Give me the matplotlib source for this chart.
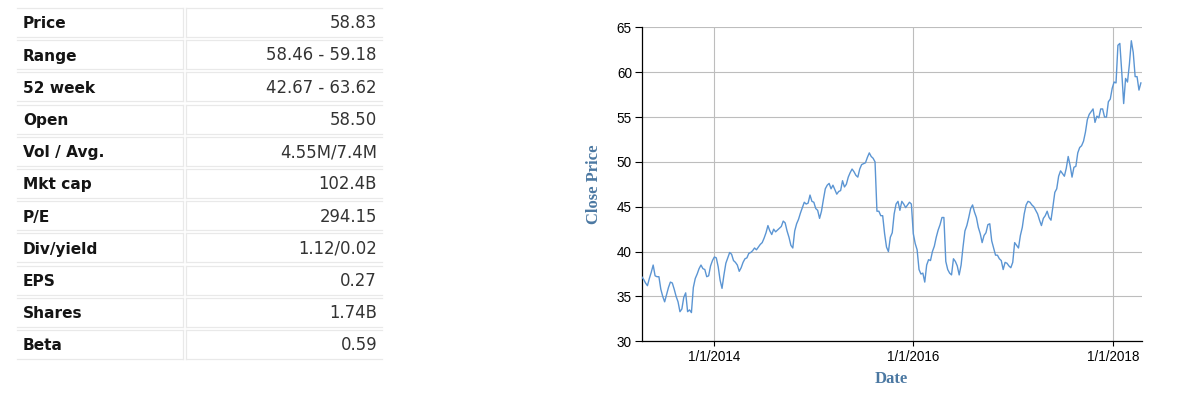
import matplotlib
matplotlib.use("Agg")
import matplotlib.pyplot as plt
import matplotlib.dates as mdates
from matplotlib.lines import Line2D
import pandas as pd

# ---------------- data ----------------
table_labels = ["Price", "Range", "52 week", "Open", "Vol / Avg.", "Mkt cap",
                "P/E", "Div/yield", "EPS", "Shares", "Beta"]
table_values = ["58.83", "58.46 - 59.18", "42.67 - 63.62", "58.50", "4.55M/7.4M",
                "102.4B", "294.15", "1.12/0.02", "0.27", "1.74B", "0.59"]

start_date = "2013-04-12"   # weekly closes
close = [
    37.2, 36.9, 36.5, 36.2, 37.0, 37.7, 38.5, 37.3, 37.2, 37.2,
    35.8, 35.0, 34.4, 35.2, 36.0, 36.6, 36.5, 35.8, 35.0, 34.4,
    33.3, 33.6, 34.9, 35.4, 33.3, 33.5, 33.2, 36.0, 37.0, 37.5,
    38.1, 38.5, 38.1, 38.0, 37.2, 37.3, 38.4, 39.0, 39.4, 39.3,
    38.3, 36.8, 35.9, 37.4, 38.7, 39.3, 39.9, 39.7, 39.0, 38.8,
    38.5, 37.8, 38.2, 38.8, 39.2, 39.3, 39.8, 39.9, 40.1, 40.4,
    40.2, 40.5, 40.8, 41.0, 41.5, 42.1, 42.9, 42.3, 41.9, 42.5,
    42.2, 42.4, 42.6, 42.8, 43.4, 43.2, 42.3, 41.6, 40.7, 40.4,
    42.3, 43.1, 43.6, 44.3, 44.9, 45.5, 45.3, 45.4, 46.3, 45.6,
    45.5, 44.8, 44.6, 43.7, 44.5, 45.8, 47.0, 47.4, 47.6, 47.0,
    47.4, 46.9, 46.4, 46.7, 46.8, 47.9, 47.2, 47.5, 48.3, 48.8,
    49.2, 48.9, 48.5, 48.3, 49.2, 49.7, 49.8, 49.9, 50.5, 51.0,
    50.6, 50.4, 50.0, 44.5, 44.5, 44.0, 44.0, 42.0, 40.5, 40.0,
    41.6, 42.1, 44.2, 45.3, 45.6, 44.6, 45.6, 45.3, 44.9, 45.2,
    45.5, 45.3, 42.0, 40.9, 40.2, 38.0, 37.5, 37.6, 36.6, 38.5,
    39.1, 39.0, 40.0, 40.6, 41.6, 42.4, 43.0, 43.8, 43.8, 38.9,
    38.0, 37.6, 37.4, 39.2, 38.9, 38.4, 37.4, 38.5, 40.5, 42.3,
    42.9, 43.8, 44.8, 45.2, 44.4, 43.8, 42.7, 42.0, 41.0, 41.8,
    42.1, 43.0, 43.1, 41.2, 40.4, 39.6, 39.6, 39.2, 39.0, 38.0,
    38.8, 38.7, 38.4, 38.2, 38.8, 41.0, 40.7, 40.4, 41.8, 42.7,
    44.2, 45.2, 45.6, 45.5, 45.2, 45.0, 44.6, 44.2, 43.5, 42.9,
    43.7, 44.0, 44.5, 43.8, 43.5, 45.0, 46.6, 47.0, 48.4, 49.0,
    48.7, 48.4, 49.3, 50.6, 49.6, 48.3, 49.4, 49.5, 51.0, 51.6,
    51.8, 52.3, 53.3, 54.7, 55.3, 55.6, 55.9, 54.4, 55.1, 54.9,
    55.9, 55.9, 55.0, 55.0, 56.7, 57.0, 58.2, 58.9, 58.8, 63.0,
    63.2, 60.0, 56.5, 59.3, 58.9, 60.9, 63.5, 62.2, 59.5, 59.5,
    58.0, 58.8,
]
x_ticks = ["2014-01-01", "2016-01-01", "2018-01-01"]
x_tick_labels = ["1/1/2014", "1/1/2016", "1/1/2018"]
y_ticks = [30, 35, 40, 45, 50, 55, 60, 65]

dates = pd.date_range(start_date, periods=len(close), freq="7D")

# ---------------- figure ----------------
W, H = 1178, 400
fig = plt.figure(figsize=(W / 100, H / 100), dpi=100)
fig.patch.set_facecolor("white")

def fx(px):
    return px / W

def fy(py):
    return 1 - py / H

# ---------------- table ----------------
line_col = "#e9e9e9"
row_pitch = 32.2
for i, (lab, val) in enumerate(zip(table_labels, table_values)):
    top = 8 + row_pitch * i
    bot = top + 29
    for (x0, x1) in [(17, 183), (186, 382)]:
        for yy in (top, bot):
            fig.add_artist(Line2D([fx(x0), fx(x1)], [fy(yy), fy(yy)],
                                  color=line_col, lw=0.9, transform=fig.transFigure))
        fig.add_artist(Line2D([fx(x1 if x0 == 17 else x0)] * 2, [fy(top), fy(bot)],
                              color=line_col, lw=0.9, transform=fig.transFigure))
    base = 28.3 + row_pitch * i
    fig.text(fx(23), fy(base), lab, ha="left", va="baseline",
             family="DejaVu Sans", weight="bold", fontsize=11.1, color="#151515")
    fig.text(fx(377), fy(base), val, ha="right", va="baseline",
             family="DejaVu Sans", fontsize=11.9, color="#333333")

# ---------------- chart ----------------
ax = fig.add_axes([fx(641.7), fy(341.3), (1141.7 - 641.7) / W, (341.3 - 27.3) / H])
ax.plot(dates, close, color="#5b95d3", lw=1.0, zorder=3)

ax.set_xlim(pd.Timestamp("2013-04-12"), pd.Timestamp("2018-04-16"))
ax.set_ylim(30, 65)
ax.set_yticks(y_ticks)
ax.set_xticks([pd.Timestamp(t) for t in x_ticks])
ax.set_xticklabels(x_tick_labels)

ax.grid(True, color="#bdbdbd", lw=0.8, zorder=0)
for s in ("top", "right"):
    ax.spines[s].set_visible(False)
for s in ("left", "bottom"):
    ax.spines[s].set_color("black")
    ax.spines[s].set_linewidth(0.9)

ax.tick_params(axis="y", length=5, width=0.8, pad=2, labelsize=9.75,
               colors="black", labelfontfamily="Liberation Sans")
ax.tick_params(axis="x", length=3.5, width=0.8, pad=2.5, labelsize=9.75,
               colors="black", labelfontfamily="Liberation Sans")

lab_col = "#4b78a2"
ax.set_ylabel("Close Price", family="Liberation Serif", weight="bold",
              fontsize=12, color=lab_col)
ax.yaxis.label.set_va("center")
ax.yaxis.set_label_coords((594 - 641.7) / 500, 0.5)
ax.set_xlabel("Date", family="Liberation Serif", weight="bold",
              fontsize=12, color=lab_col)
ax.xaxis.label.set_va("center")
ax.xaxis.set_label_coords((891 - 641.7) / 500, (341.3 - 379) / 314)

fig.savefig("out.png", dpi=100, facecolor="white")
